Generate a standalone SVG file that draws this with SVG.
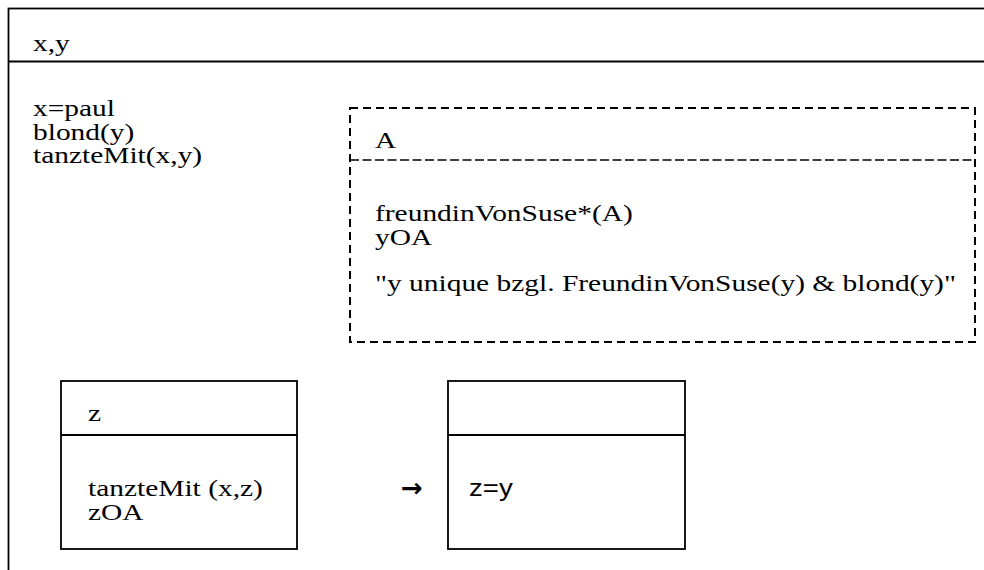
<svg xmlns="http://www.w3.org/2000/svg" width="984" height="570" viewBox="0 0 984 570">
  <style>
    .box { fill: none; stroke: #000; stroke-width: 1.8; }
    .dash { fill: none; stroke: #000; stroke-width: 2; stroke-dasharray: 8 5; }
    .dash-fine { fill: none; stroke: #000; stroke-width: 1.6; stroke-dasharray: 9 3.5; }
    text { font-family: "Liberation Serif", "Times New Roman", serif; font-size: 23px; fill: #000; }
    .sans { font-family: "Liberation Sans", Arial, sans-serif; font-size: 24px; }
    .arrow { font-family: "DejaVu Sans", sans-serif; font-size: 26px; font-weight: bold; }
  </style>

  <!-- outer DRS: universe x,y -->
  <g id="drs-main">
    <rect class="box" x="8.5" y="8.5" width="1000" height="600"/>
    <line class="box" x1="8.5" y1="61.5" x2="1000" y2="61.5"/>
    <text transform="translate(33 51) scale(1.28 1)">x,y</text>
    <text transform="translate(33 116) scale(1.28 1)">x=paul</text>
    <text transform="translate(33 139.5) scale(1.28 1)">blond(y)</text>
    <text transform="translate(33 163) scale(1.28 1)">tanzteMit(x,y)</text>
  </g>

  <!-- dashed sub-DRS for A -->
  <g id="drs-A">
    <rect class="dash" x="350" y="108" width="625" height="234"/>
    <line class="dash-fine" x1="350" y1="160" x2="975" y2="160"/>
    <text transform="translate(375 148) scale(1.28 1)">A</text>
    <text transform="translate(375 221) scale(1.28 1)">freundinVonSuse*(A)</text>
    <text transform="translate(375 244.5) scale(1.28 1)">yOA</text>
    <text transform="translate(375 291) scale(1.28 1)">"y unique bzgl. FreundinVonSuse(y) &amp; blond(y)"</text>
  </g>

  <!-- antecedent box -->
  <g id="drs-z">
    <rect class="box" x="61" y="381" width="236" height="168"/>
    <line class="box" x1="61" y1="435" x2="297" y2="435"/>
    <text transform="translate(88 420.5) scale(1.28 1)">z</text>
    <text transform="translate(88 496) scale(1.28 1)">tanzteMit (x,z)</text>
    <text transform="translate(88 519.5) scale(1.28 1)">zOA</text>
  </g>

  <!-- consequent box -->
  <g id="drs-cons">
    <rect class="box" x="448" y="381" width="237" height="168"/>
    <line class="box" x1="448" y1="435" x2="685" y2="435"/>
    <text class="sans" transform="translate(469 496) scale(1.15 1)">z=y</text>
  </g>

  <!-- implication -->
  <g id="connectors">
    <text class="arrow" x="401" y="497">→</text>
  </g>
</svg>
